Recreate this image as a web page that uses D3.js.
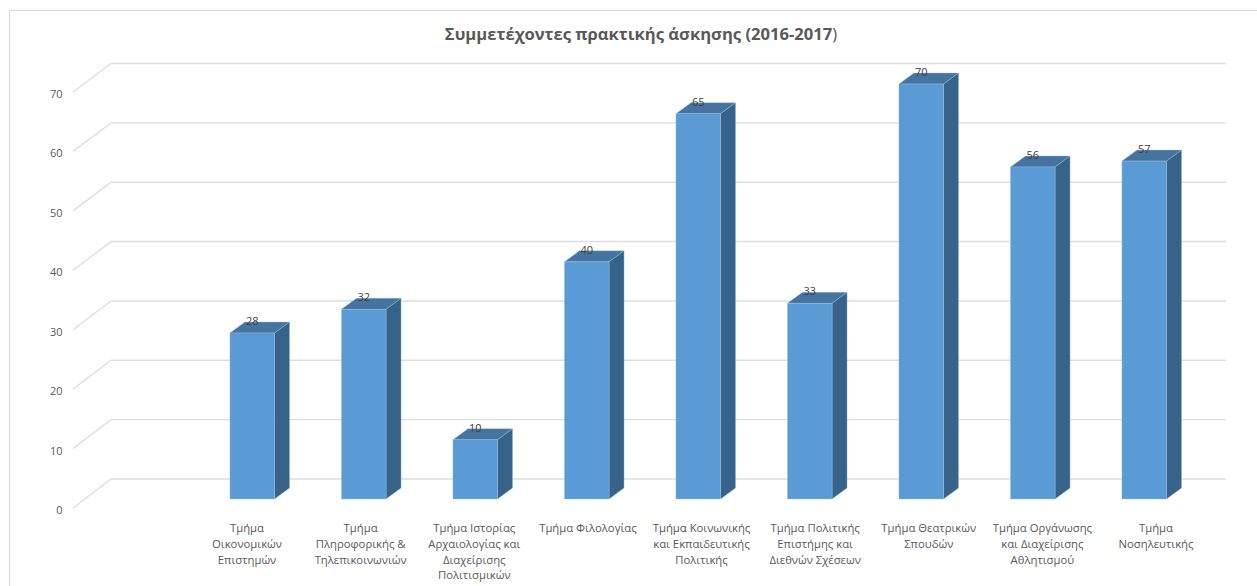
<!DOCTYPE html>
<html><head><meta charset="utf-8">
<script src="https://cdn.jsdelivr.net/npm/d3@7"></script>
<style>html,body{margin:0;padding:0;background:#fff}svg{display:block}text{font-family:"Open Sans","Noto Sans",sans-serif}</style>
</head><body><div id="c"></div>
<script>
const title = "Συμμετέχοντες πρακτικής άσκησης (2016-2017";
const titleEnd = ")";
const categories = [
 ["Τμήμα","Οικονομικών","Επιστημών"],
 ["Τμήμα","Πληροφορικής &","Τηλεπικοινωνιών"],
 ["Τμήμα Ιστορίας","Αρχαιολογίας και","Διαχείρισης","Πολιτισμικών"],
 ["Τμήμα Φιλολογίας"],
 ["Τμήμα Κοινωνικής","και Εκπαιδευτικής","Πολιτικής"],
 ["Τμήμα Πολιτικής","Επιστήμης και","Διεθνών Σχέσεων"],
 ["Τμήμα Θεατρικών","Σπουδών"],
 ["Τμήμα Οργάνωσης","και Διαχείρισης","Αθλητισμού"],
 ["Τμήμα","Νοσηλευτικής"]
];
const values = [28,32,10,40,65,33,70,56,57];
const ticks = [0,10,20,30,40,50,60,70];

const W=1257,H=586;
const svg=d3.select("#c").append("svg").attr("width",W).attr("height",H);
svg.append("path").attr("fill","none").attr("stroke","#d9d9d9").attr("stroke-width",1.2)
  .attr("d",d3.line()([[9.5,586],[9.5,10.5],[1257,10.5]]));

// three planes of the 3-D frame
const yFront=d3.scaleLinear().domain([0,70]).range([508,92]);
const yBack=d3.scaleLinear().domain([0,70]).range([479,63.5]);
const yBar=d3.scaleLinear().domain([0,70]).range([499,84]);
const x=d3.scaleBand().domain(d3.range(values.length)).range([196.5,1200]).paddingInner(0.6).paddingOuter(0.3);
const xLabel=d3.scalePoint().domain(d3.range(values.length)).range([247,1156]);
const depthX=15, depthY=11;

const grid=svg.append("g").attr("fill","none").attr("stroke","#dedede").attr("stroke-width",1.4);
ticks.forEach(t=>{
  grid.append("path").attr("d",d3.line()([[73,yFront(t)],[111,yBack(t)],[1226,yBack(t)]]));
});
svg.append("g").selectAll("text").data(ticks).join("text")
  .attr("x",62.5).attr("y",t=>yFront(t)+6).attr("text-anchor","end")
  .attr("font-size",11).attr("fill","#595959").text(t=>t);

const bars=svg.append("g").selectAll("g").data(values).join("g");
bars.append("path").attr("fill","#44749f").attr("stroke","#9dbfe0").attr("stroke-width",0.4).attr("d",(v,i)=>{
  const l=x(i),r=l+x.bandwidth(),t=yBar(v);
  return d3.line()([[l,t],[l+depthX,t-depthY],[r+depthX,t-depthY],[r,t]])+"Z";
});
bars.append("path").attr("fill","#386389").attr("stroke","#9dbfe0").attr("stroke-width",0.4).attr("d",(v,i)=>{
  const r=x(i)+x.bandwidth(),t=yBar(v),b=yBar(0);
  return d3.line()([[r,t],[r+depthX,t-depthY],[r+depthX,b-depthY],[r,b]])+"Z";
});
bars.append("rect").attr("x",(v,i)=>x(i)).attr("y",v=>yBar(v))
  .attr("width",x.bandwidth()).attr("height",v=>yBar(0)-yBar(v)).attr("fill","#5b9bd5")
  .attr("stroke","#9dbfe0").attr("stroke-width",0.4);
bars.append("text").attr("x",(v,i)=>x(i)+x.bandwidth()/2).attr("y",v=>yBar(v)-8)
  .attr("text-anchor","middle").attr("font-size",11).attr("fill","#404040").text(v=>v);

const cat=svg.append("g").selectAll("text").data(categories).join("text")
  .attr("text-anchor","middle").attr("font-size",11.3).attr("fill","#595959");
cat.each(function(lines,i){
  const g=d3.select(this);
  lines.forEach((s,j)=>g.append("tspan").attr("x",xLabel(i)).attr("y",532+j*15.8).text(s));
});

const tt=svg.append("text").attr("x",641).attr("y",40).attr("text-anchor","middle")
  .attr("font-size",16.6).attr("fill","#595959");
tt.append("tspan").attr("font-weight",700).text(title);
tt.append("tspan").text(titleEnd);
</script></body></html>
